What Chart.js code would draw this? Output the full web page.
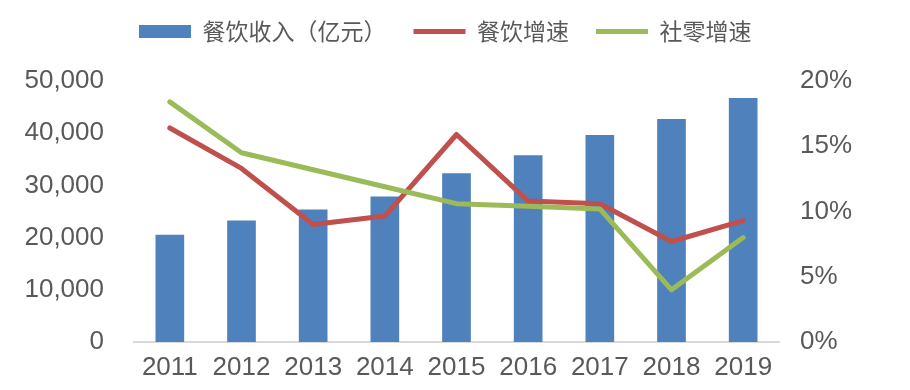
<!DOCTYPE html>
<html>
<head>
<meta charset="utf-8">
<script src="https://cdn.jsdelivr.net/npm/chart.js@4/dist/chart.umd.min.js"></script>
<style>
  html, body { margin: 0; padding: 0; background: #fff; }
  #wrap { width: 910px; height: 390px; }
</style>
</head>
<body>
<div id="wrap"><canvas id="c"></canvas></div>
<script>
// 餐饮收入 vs 增速 (2011-2019)
const years = ["2011", "2012", "2013", "2014", "2015", "2016", "2017", "2018", "2019"];
const revenue = [20543, 23283, 25392, 27860, 32310, 35799, 39644, 42716, 46721]; // 亿元
const cateringGrowth = [16.4, 13.3, 9.0, 9.65, 15.9, 10.8, 10.6, 7.7, 9.3];    // %
const retailGrowth = [18.4, 14.5, 13.2, 11.9, 10.6, 10.4, 10.2, 4.0, 8.0];      // %

const TEXT = "#595959";
const LATIN = "'Liberation Sans', Arial, sans-serif";
const CJK = "'Noto Sans CJK SC', sans-serif";

// legend sits left of centre and higher than Chart.js would put it
const legendShift = {
  id: "legendShift",
  afterLayout(chart) {
    const lg = chart.legend;
    if (!lg) return;
    lg.left = 112;
    lg.top = -7;
  }
};

new Chart(document.getElementById("c"), {
  data: {
    labels: years,
    datasets: [
      {
        type: "bar", label: "餐饮收入（亿元）", data: revenue, yAxisID: "y",
        backgroundColor: "#4F81BD", borderWidth: 0, order: 3,
        categoryPercentage: 0.8, barPercentage: 0.5, pointStyle: "rect",
      },
      {
        type: "line", label: "餐饮增速", data: cateringGrowth, yAxisID: "y1",
        borderColor: "#C0504D", backgroundColor: "#C0504D", borderWidth: 5,
        borderCapStyle: "round", borderJoinStyle: "round",
        pointRadius: 0, pointStyle: "line", tension: 0, order: 2,
      },
      {
        type: "line", label: "社零增速", data: retailGrowth, yAxisID: "y1",
        borderColor: "#9BBB59", backgroundColor: "#9BBB59", borderWidth: 5,
        borderCapStyle: "round", borderJoinStyle: "round",
        pointRadius: 0, pointStyle: "line", tension: 0, order: 1,
      },
    ],
  },
  options: {
    responsive: true,
    maintainAspectRatio: false,
    animation: false,
    layout: { padding: { left: 24, right: 58, top: 21, bottom: 7 } },
    plugins: {
      tooltip: { enabled: false },
      legend: {
        position: "top",
        align: "start",
        labels: {
          usePointStyle: true,
          pointStyleWidth: 52,
          boxHeight: 13,
          padding: 27,
          color: TEXT,
          font: { family: CJK, size: 23 },
          sort: (a, b) => a.datasetIndex - b.datasetIndex,
        },
      },
    },
    scales: {
      x: {
        grid: { display: false, drawTicks: false },
        border: { color: "#D9D9D9", width: 2 },
        ticks: { color: TEXT, padding: 10, font: { family: LATIN, size: 26 } },
        afterFit: s => { s.height = 41; },
      },
      y: {
        position: "left",
        min: 0, max: 50000,
        grid: { display: false, drawTicks: false },
        border: { display: false },
        ticks: {
          stepSize: 10000, color: TEXT, padding: 30,
          font: { family: LATIN, size: 26 },
          callback: v => v.toLocaleString("en-US"),
        },
        afterFit: s => { s.width = 110; },
      },
      y1: {
        position: "right",
        min: 0, max: 20,
        grid: { display: false, drawTicks: false },
        border: { display: false },
        ticks: {
          stepSize: 5, color: TEXT, padding: 21,
          font: { family: LATIN, size: 26 },
          callback: v => v + "%",
        },
        afterFit: s => { s.width = 73; },
      },
    },
  },
  plugins: [legendShift],
});
</script>
</body>
</html>
